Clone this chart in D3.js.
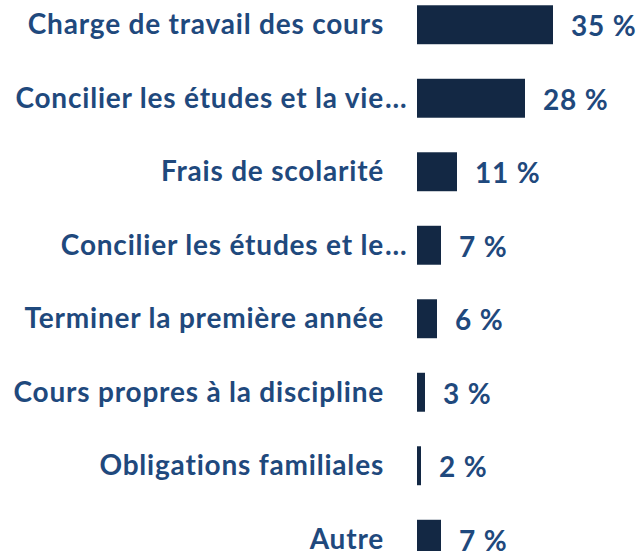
<!DOCTYPE html>
<html>
<head>
<meta charset="utf-8">
<script src="https://cdn.jsdelivr.net/npm/d3@7"></script>
<style>
  body { margin: 0; background: #fff; }
  text { font-family: Lato, "Open Sans", sans-serif; font-weight: bold; letter-spacing: 0.8px; }
</style>
</head>
<body>
<svg id="chart"></svg>
<script>
var width = 639,
    height = 551;

var categories = [
    'Charge de travail des cours',
    'Concilier les études et la vie',
    'Frais de scolarité',
    'Concilier les études et le',
    'Terminer la première année',
    'Cours propres à la discipline',
    'Obligations familiales',
    'Autre'
];
var truncated = [false, true, false, true, false, false, false, false];
var values = [35, 28, 11, 7, 6, 3, 2, 7];

var MARGIN = { LEFT: 417, RIGHT: 20, TOP: -12 };

// the bars are drawn from an origin hidden just left of the visible edge
var xScale = d3.scaleLinear()
    .domain([1, 35])
    .range([0, 136]);

var yScale = d3.scaleBand()
    .domain(categories)
    .range([MARGIN.TOP, MARGIN.TOP + 73.5 * categories.length])
    .paddingInner(0.47)
    .paddingOuter(0.235);

var svg = d3.select('#chart')
    .attr('width', width)
    .attr('height', height);

var g = svg.append('g')
    .attr('transform', 'translate(' + MARGIN.LEFT + ', 0)');

var rows = g.selectAll('g.row')
    .data(categories)
    .enter()
    .append('g')
    .attr('class', 'row');

rows.append('rect')
    .attr('x', 0)
    .attr('y', function (d) { return yScale(d); })
    .attr('width', function (d, i) { return xScale(values[i]); })
    .attr('height', yScale.bandwidth())
    .attr('fill', '#132844');

// category labels
rows.append('text')
    .attr('x', -33)
    .attr('y', function (d) { return yScale(d) + yScale.bandwidth() / 2; })
    .attr('dy', '0.34em')
    .attr('text-anchor', 'end')
    .attr('fill', '#1f497d')
    .style('font-size', '28px')
    .text(function (d) { return d; });

rows.filter(function (d, i) { return truncated[i]; })
    .append('text')
    .attr('x', -32)
    .attr('y', function (d) { return yScale(d) + yScale.bandwidth() / 2; })
    .attr('dy', '0.34em')
    .attr('fill', '#1f497d')
    .style('font-size', '28px')
    .style('letter-spacing', '0px')
    .text('…');

// value labels
rows.append('text')
    .attr('x', function (d, i) { return xScale(values[i]) + 18; })
    .attr('y', function (d) { return yScale(d) + yScale.bandwidth() / 2 + 2; })
    .attr('dy', '0.34em')
    .attr('fill', '#1f497d')
    .style('font-size', '28px')
    .text(function (d, i) { return values[i] + ' %'; });
</script>
</body>
</html>
